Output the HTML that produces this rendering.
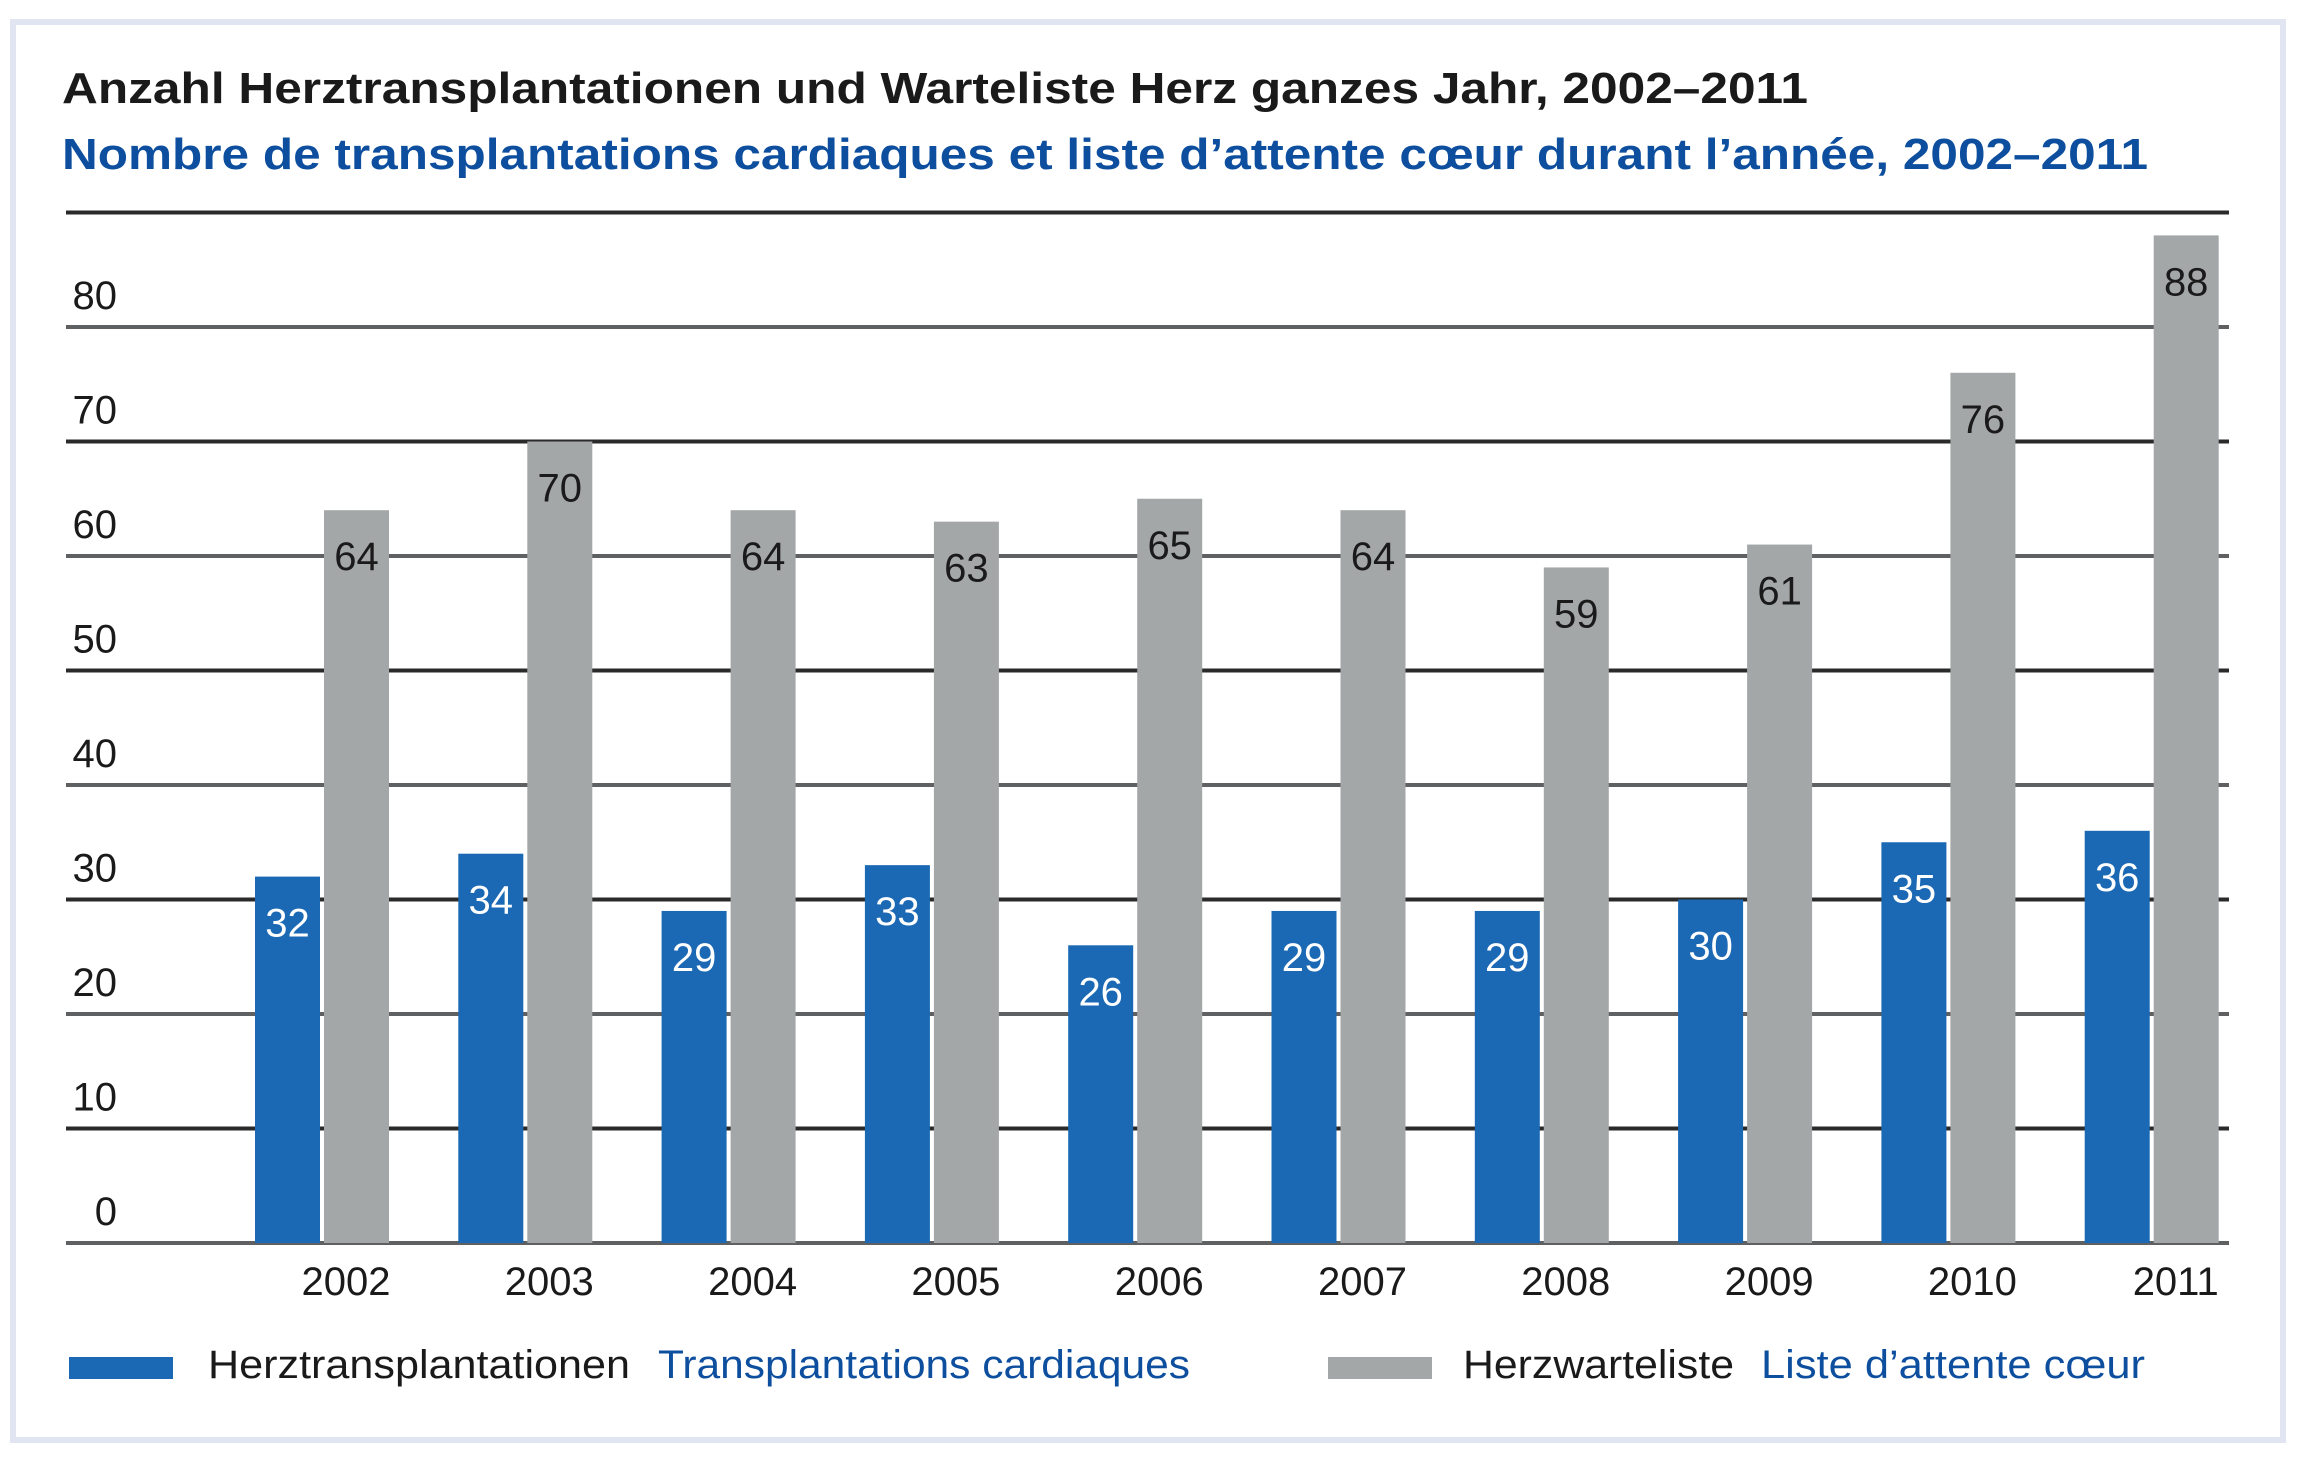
<!DOCTYPE html>
<html><head><meta charset="utf-8"><style>
html,body{margin:0;padding:0;background:#fff;}
svg{display:block;}
text{font-family:"Liberation Sans",sans-serif;}
</style></head><body>
<svg id="chart" width="2299" height="1470" viewBox="0 0 2299 1470" xmlns="http://www.w3.org/2000/svg">
<rect x="13" y="22" width="2270" height="1418" fill="#fff" stroke="#e1e5f2" stroke-width="6"/>
<text x="62" y="103" font-size="44" font-weight="bold" fill="#1a1a1a" textLength="1746" lengthAdjust="spacingAndGlyphs">Anzahl Herztransplantationen und Warteliste Herz ganzes Jahr, 2002–2011</text>
<text x="62" y="169" font-size="44" font-weight="bold" fill="#0d4f9e" textLength="2086" lengthAdjust="spacingAndGlyphs">Nombre de transplantations cardiaques et liste d’attente cœur durant l’année, 2002–2011</text>
<g id="grid"></g>
<g id="bars"></g>
<g id="legend">
<rect x="69" y="1357" width="104" height="22" fill="#1b69b4"/>
<text x="208" y="1378" font-size="40" fill="#1a1a1a" textLength="422" lengthAdjust="spacingAndGlyphs">Herztransplantationen</text>
<text x="658" y="1378" font-size="40" fill="#0d4f9e" textLength="532" lengthAdjust="spacingAndGlyphs">Transplantations cardiaques</text>
<rect x="1328" y="1357" width="104" height="22" fill="#a4a7a8"/>
<text x="1463" y="1378" font-size="40" fill="#1a1a1a" textLength="271" lengthAdjust="spacingAndGlyphs">Herzwarteliste</text>
<text x="1761" y="1378" font-size="40" fill="#0d4f9e" textLength="384" lengthAdjust="spacingAndGlyphs">Liste d’attente cœur</text>
</g>
</svg>
<script>
const years = ["2002","2003","2004","2005","2006","2007","2008","2009","2010","2011"];
const transplants = [32,34,29,33,26,29,29,30,35,36];
const waitlist = [64,70,64,63,65,64,59,61,76,88];
const yTicks = [0,10,20,30,40,50,60,70,80,90];
const yTickLabels = ["0","10","20","30","40","50","60","70","80",""];

const NS = "http://www.w3.org/2000/svg";
const y0 = 1243, pxPerUnit = 11.45;
function yScale(v){ return y0 - v * pxPerUnit; }
function xGroup(i){ return 255 + i * 203.3; }
const barW = 65, gap = 4;

function mk(tag, attrs, parent){
  const el = document.createElementNS(NS, tag);
  for (const k in attrs) el.setAttribute(k, attrs[k]);
  parent.appendChild(el);
  return el;
}
const grid = document.getElementById('grid');
const bars = document.getElementById('bars');

yTicks.forEach((t, i) => {
  const ln = mk('line', {x1:66, x2:2229, y1:yScale(t), y2:yScale(t), stroke: i % 2 ? '#2a2a2a' : '#5e6062', 'stroke-width':4}, grid);
  
  
  if (yTickLabels[i]) {
    const tx = mk('text', {x:117, y:yScale(t) - 18, 'font-size':40, fill:'#1a1a1a', 'text-anchor':'end'}, grid);
    tx.textContent = yTickLabels[i];
    
    
  }
});

years.forEach((yr, i) => {
  const xb = xGroup(i), xg = xb + barW + gap;
  const b = mk('rect', {x:xb, y:yScale(transplants[i]), width:barW, height:y0 - yScale(transplants[i]), fill:'#1b69b4'}, bars);
  
  
  const g = mk('rect', {x:xg, y:yScale(waitlist[i]), width:barW, height:y0 - yScale(waitlist[i]), fill:'#a4a7a8'}, bars);
  
  
  const bl = mk('text', {x:xb + barW/2, y:yScale(transplants[i]) + 60, 'font-size':40, fill:'#fff', 'text-anchor':'middle'}, bars);
  bl.textContent = transplants[i];
  
  
  const gl = mk('text', {x:xg + barW/2, y:yScale(waitlist[i]) + 60, 'font-size':40, fill:'#1a1a1a', 'text-anchor':'middle'}, bars);
  gl.textContent = waitlist[i];
  
  
  const xl = mk('text', {x:xg + 22, y:1295, 'font-size':40, fill:'#1a1a1a', 'text-anchor':'middle'}, bars);
  xl.textContent = yr;
  
  
});
</script>
</body></html>
